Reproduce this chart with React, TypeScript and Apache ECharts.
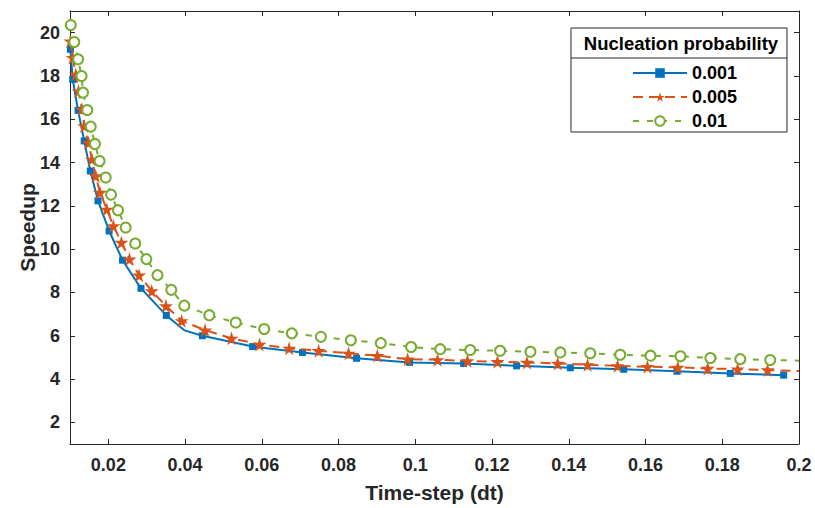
import React, { useEffect, useRef } from "react";
import * as echarts from "echarts";

// ---- data ----
const xTicks = [0.02, 0.04, 0.06, 0.08, 0.1, 0.12, 0.14, 0.16, 0.18, 0.2];
const yTicks = [2, 4, 6, 8, 10, 12, 14, 16, 18, 20];

const p001X = [0.0101, 0.0107, 0.0121, 0.0137, 0.0153, 0.0173, 0.0202, 0.0237, 0.0285, 0.0351, 0.0398, 0.0445, 0.0576, 0.0706, 0.0847, 0.0985, 0.1126, 0.1264, 0.1404, 0.1543, 0.1682, 0.1821, 0.196];
const p001Y = [19.23, 17.84, 16.41, 15.0, 13.61, 12.23, 10.84, 9.49, 8.19, 6.94, 6.25, 6.0, 5.5, 5.23, 4.96, 4.77, 4.72, 4.61, 4.52, 4.45, 4.36, 4.26, 4.18];
const p001NoMarker = [10];

const p005X = [0.0101, 0.0107, 0.0115, 0.0122, 0.0131, 0.0137, 0.0148, 0.0157, 0.0167, 0.0178, 0.0196, 0.0213, 0.0234, 0.0255, 0.028, 0.0313, 0.035, 0.0391, 0.0452, 0.0521, 0.0594, 0.0671, 0.0748, 0.0826, 0.0901, 0.098, 0.1058, 0.1136, 0.1214, 0.1291, 0.1371, 0.1449, 0.1527, 0.1605, 0.1684, 0.1762, 0.184, 0.1918, 0.2];
const p005Y = [19.61, 18.85, 18.07, 17.3, 16.46, 15.69, 14.92, 14.15, 13.38, 12.62, 11.84, 11.07, 10.31, 9.54, 8.8, 8.07, 7.38, 6.69, 6.26, 5.88, 5.6, 5.42, 5.31, 5.19, 5.08, 4.92, 4.89, 4.84, 4.8, 4.77, 4.72, 4.66, 4.61, 4.57, 4.54, 4.49, 4.46, 4.42, 4.37];
const p005NoMarker = [38];

const p01X = [0.0102, 0.0111, 0.0121, 0.013, 0.0134, 0.0145, 0.0154, 0.0165, 0.0177, 0.0193, 0.0207, 0.0225, 0.0245, 0.027, 0.0299, 0.0328, 0.0364, 0.0398, 0.0463, 0.0532, 0.0606, 0.0678, 0.0754, 0.0832, 0.091, 0.0989, 0.1065, 0.1143, 0.1221, 0.13, 0.1378, 0.1456, 0.1534, 0.1613, 0.1691, 0.1769, 0.1847, 0.1925, 0.2];
const p01Y = [20.35, 19.57, 18.77, 18.0, 17.23, 16.43, 15.66, 14.86, 14.07, 13.31, 12.52, 11.8, 11.0, 10.26, 9.54, 8.8, 8.12, 7.39, 6.95, 6.61, 6.31, 6.11, 5.95, 5.79, 5.66, 5.48, 5.38, 5.34, 5.31, 5.26, 5.23, 5.19, 5.12, 5.08, 5.05, 4.97, 4.92, 4.88, 4.85];
const p01NoMarker = [38];

const seriesNames = ["0.001", "0.005", "0.01"];
const legendTitle = "Nucleation probability";
const xName = "Time-step (dt)";
const yName = "Speedup";

const FONT = "'Liberation Sans', Arial, Helvetica, sans-serif";
const TXT = "#262626";
const STAR = "path://M50,0 L61,35 L98,35 L68,57 L79,91 L50,70 L21,91 L32,57 L2,35 L39,35 Z";

function build(xs: number[], ys: number[], noMarker: number[]) {
  return xs.map((x, i) =>
    noMarker.includes(i) ? { value: [x, ys[i]], symbol: "none" } : { value: [x, ys[i]] }
  );
}

export default function App() {
  const ref = useRef<HTMLDivElement>(null);
  useEffect(() => {
    if (!ref.current) return;
    const chart = echarts.init(ref.current, undefined, { renderer: "svg" });
    const axisCommon = {
      axisLine: { show: true, lineStyle: { color: TXT, width: 1 } },
      splitLine: { show: false },
    };
    chart.setOption({
      animation: false,
      backgroundColor: "#fff",
      grid: { left: 70, right: 16, top: 11, bottom: 63, show: false },
      xAxis: [
        {
          type: "value",
          min: 0.01,
          max: 0.2,
          position: "bottom",
          ...axisCommon,
          axisTick: { inside: true, length: 5, customValues: xTicks, lineStyle: { color: TXT } },
          axisLabel: {
            customValues: xTicks,
            margin: 12,
            color: TXT,
            fontFamily: FONT,
            fontWeight: "bold",
            fontSize: 18,
          },
          name: xName,
          nameLocation: "middle",
          nameGap: 38,
          nameMoveOverlap: false,
          nameTextStyle: { color: TXT, fontFamily: FONT, fontWeight: "bold", fontSize: 21 },
        },
        {
          type: "value",
          min: 0.01,
          max: 0.2,
          position: "top",
          ...axisCommon,
          axisTick: { inside: true, length: 5, customValues: xTicks, lineStyle: { color: TXT } },
          axisLabel: { show: false },
        },
      ],
      yAxis: [
        {
          type: "value",
          min: 1,
          max: 21,
          position: "left",
          ...axisCommon,
          axisTick: { inside: true, length: 5, customValues: yTicks, lineStyle: { color: TXT } },
          axisLabel: {
            customValues: yTicks,
            margin: 10,
            color: TXT,
            fontFamily: FONT,
            fontWeight: "bold",
            fontSize: 18,
          },
          name: yName,
          nameLocation: "middle",
          nameGap: 32,
          nameMoveOverlap: false,
          nameTextStyle: { color: TXT, fontFamily: FONT, fontWeight: "bold", fontSize: 21 },
        },
        {
          type: "value",
          min: 1,
          max: 21,
          position: "right",
          ...axisCommon,
          axisTick: { inside: true, length: 5, customValues: yTicks, lineStyle: { color: TXT } },
          axisLabel: { show: false },
        },
      ],
      legend: {
        orient: "vertical",
        left: 627,
        top: 59,
        itemWidth: 54,
        itemHeight: 12,
        itemGap: 6,
        textStyle: { color: "#000", fontFamily: FONT, fontWeight: "bold", fontSize: 18 },
        data: seriesNames,
        z: 10,
      },
      graphic: [
        {
          type: "rect",
          z: 1,
          shape: { x: 571, y: 28, width: 216, height: 104 },
          style: { fill: "#fff", stroke: TXT, lineWidth: 1 },
        },
        {
          type: "line",
          z: 2,
          shape: { x1: 571, y1: 58, x2: 787, y2: 58 },
          style: { stroke: TXT, lineWidth: 1 },
        },
        {
          type: "text",
          z: 2,
          x: 681,
          y: 43,
          style: {
            text: legendTitle,
            fill: "#000",
            font: `bold 18.5px ${FONT}`,
            textAlign: "center",
            textVerticalAlign: "middle",
          },
        },
      ],
      series: [
        {
          name: seriesNames[0],
          type: "line",
          data: build(p001X, p001Y, p001NoMarker),
          symbol: "rect",
          symbolSize: 7,
          showAllSymbol: true,
          lineStyle: { color: "#0072BD", width: 2 },
          itemStyle: { color: "#0072BD" },
          z: 3,
        },
        {
          name: seriesNames[1],
          type: "line",
          data: build(p005X, p005Y, p005NoMarker),
          symbol: STAR,
          symbolSize: 14,
          showAllSymbol: true,
          lineStyle: { color: "#D95319", width: 2, type: [10, 6] },
          itemStyle: { color: "#D95319" },
          z: 4,
        },
        {
          name: seriesNames[2],
          type: "line",
          data: build(p01X, p01Y, p01NoMarker),
          symbol: "emptyCircle",
          symbolSize: 10,
          showAllSymbol: true,
          lineStyle: { color: "#77AC30", width: 2, type: [6, 8] },
          itemStyle: { color: "#77AC30", borderWidth: 2 },
          z: 5,
        },
      ],
    });
    return () => chart.dispose();
  }, []);
  return (
    <div
      ref={ref}
      style={{ position: "fixed", left: 0, top: 0, width: 815, height: 508, background: "#fff" }}
    />
  );
}
